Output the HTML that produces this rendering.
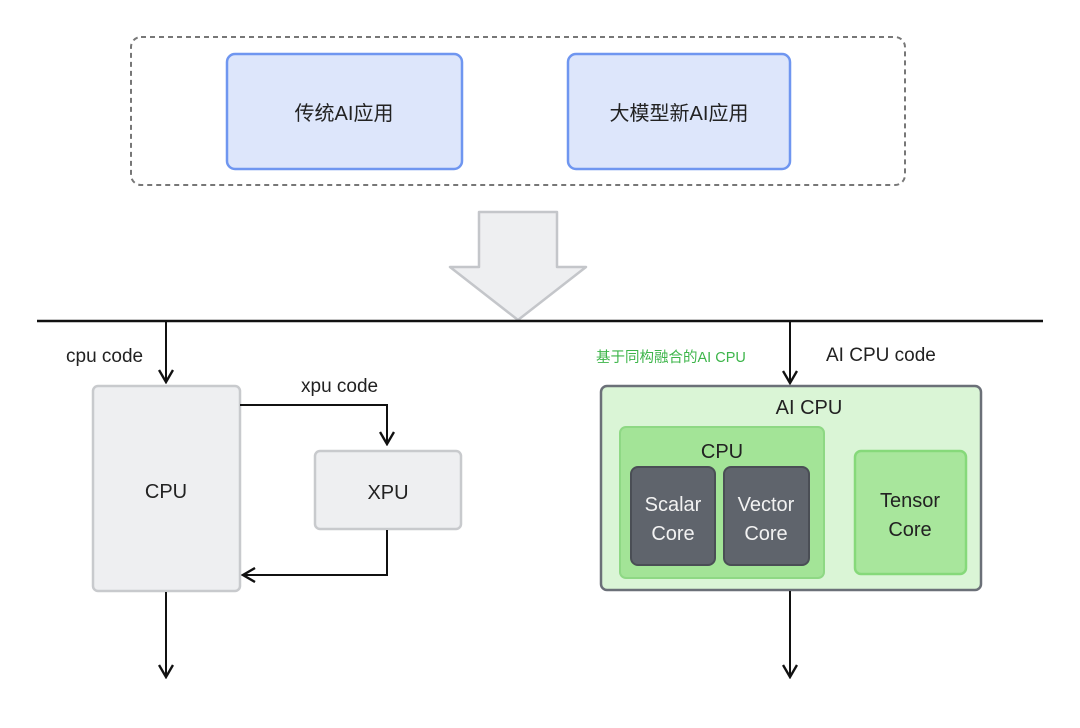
<!DOCTYPE html>
<html><head><meta charset="utf-8"><style>
html,body{margin:0;padding:0;background:#fff;}
svg{display:block}
text{font-family:"Liberation Sans","Noto Sans CJK SC",sans-serif;}
</style></head><body>
<svg width="1080" height="728" viewBox="0 0 1080 728" xmlns="http://www.w3.org/2000/svg">
<defs>
<marker id="a" viewBox="0 0 16 16" refX="14" refY="8" markerWidth="16" markerHeight="16" markerUnits="userSpaceOnUse" orient="auto">
<path d="M2,1 L14,8 L2,15" fill="none" stroke="#111" stroke-width="2.4"/>
</marker>
</defs>
<rect x="131" y="37" width="774" height="148" rx="10" fill="#fff" stroke="#777" stroke-width="2" stroke-dasharray="5,4"/>
<rect x="227" y="54" width="235" height="115" rx="8" fill="#dde6fb" stroke="#6f96f0" stroke-width="2.5"/>
<text x="344" y="120" font-size="20" text-anchor="middle" fill="#222">传统AI应用</text>
<rect x="568" y="54" width="222" height="115" rx="8" fill="#dde6fb" stroke="#6f96f0" stroke-width="2.5"/>
<text x="679" y="120" font-size="20" text-anchor="middle" fill="#222">大模型新AI应用</text>
<polygon points="479,212 557,212 557,267 586,267 518,320 450,267 479,267" fill="#eeeff1" stroke="#c4c6ca" stroke-width="2.5" stroke-linejoin="round"/>
<line x1="37" y1="321" x2="1043" y2="321" stroke="#111" stroke-width="2.5"/>
<line x1="166" y1="321" x2="166" y2="382" stroke="#111" stroke-width="2" marker-end="url(#a)"/>
<text x="66" y="362" font-size="19" fill="#222">cpu code</text>
<rect x="93" y="386" width="147" height="205" rx="5" fill="#eeeff1" stroke="#c8cacd" stroke-width="2.5"/>
<text x="166" y="498" font-size="20" text-anchor="middle" fill="#222">CPU</text>
<text x="301" y="392" font-size="19" fill="#222">xpu code</text>
<polyline points="240,405 387,405 387,444" fill="none" stroke="#111" stroke-width="2" marker-end="url(#a)"/>
<rect x="315" y="451" width="146" height="78" rx="5" fill="#eeeff1" stroke="#c8cacd" stroke-width="2.5"/>
<text x="388" y="499" font-size="20" text-anchor="middle" fill="#222">XPU</text>
<polyline points="387,530 387,575 243,575" fill="none" stroke="#111" stroke-width="2" marker-end="url(#a)"/>
<line x1="166" y1="592" x2="166" y2="677" stroke="#111" stroke-width="2" marker-end="url(#a)"/>
<line x1="790" y1="321" x2="790" y2="383" stroke="#111" stroke-width="2" marker-end="url(#a)"/>
<text x="596" y="362" font-size="14.5" fill="#3db54a">基于同构融合的AI CPU</text>
<text x="826" y="361" font-size="19" fill="#222">AI CPU  code</text>
<rect x="601" y="386" width="380" height="204" rx="6" fill="#daf5d6" stroke="#6b7078" stroke-width="2.5"/>
<text x="809" y="414" font-size="20" text-anchor="middle" fill="#222">AI CPU</text>
<rect x="620" y="427" width="204" height="151" rx="6" fill="#a3e497" stroke="#8ed884" stroke-width="2"/>
<text x="722" y="458" font-size="20" text-anchor="middle" fill="#222">CPU</text>
<rect x="631" y="467" width="84" height="98" rx="7" fill="#5f646c" stroke="#4a4e55" stroke-width="2"/>
<text x="673" y="511" font-size="20" text-anchor="middle" fill="#f2f2f2">Scalar</text>
<text x="673" y="540" font-size="20" text-anchor="middle" fill="#f2f2f2">Core</text>
<rect x="724" y="467" width="85" height="98" rx="7" fill="#5f646c" stroke="#4a4e55" stroke-width="2"/>
<text x="766" y="511" font-size="20" text-anchor="middle" fill="#f2f2f2">Vector</text>
<text x="766" y="540" font-size="20" text-anchor="middle" fill="#f2f2f2">Core</text>
<rect x="855" y="451" width="111" height="123" rx="6" fill="#a8e69c" stroke="#86d97a" stroke-width="2.5"/>
<text x="910" y="507" font-size="20" text-anchor="middle" fill="#222">Tensor</text>
<text x="910" y="536" font-size="20" text-anchor="middle" fill="#222">Core</text>
<line x1="790" y1="591" x2="790" y2="677" stroke="#111" stroke-width="2" marker-end="url(#a)"/>
</svg>
</body></html>
